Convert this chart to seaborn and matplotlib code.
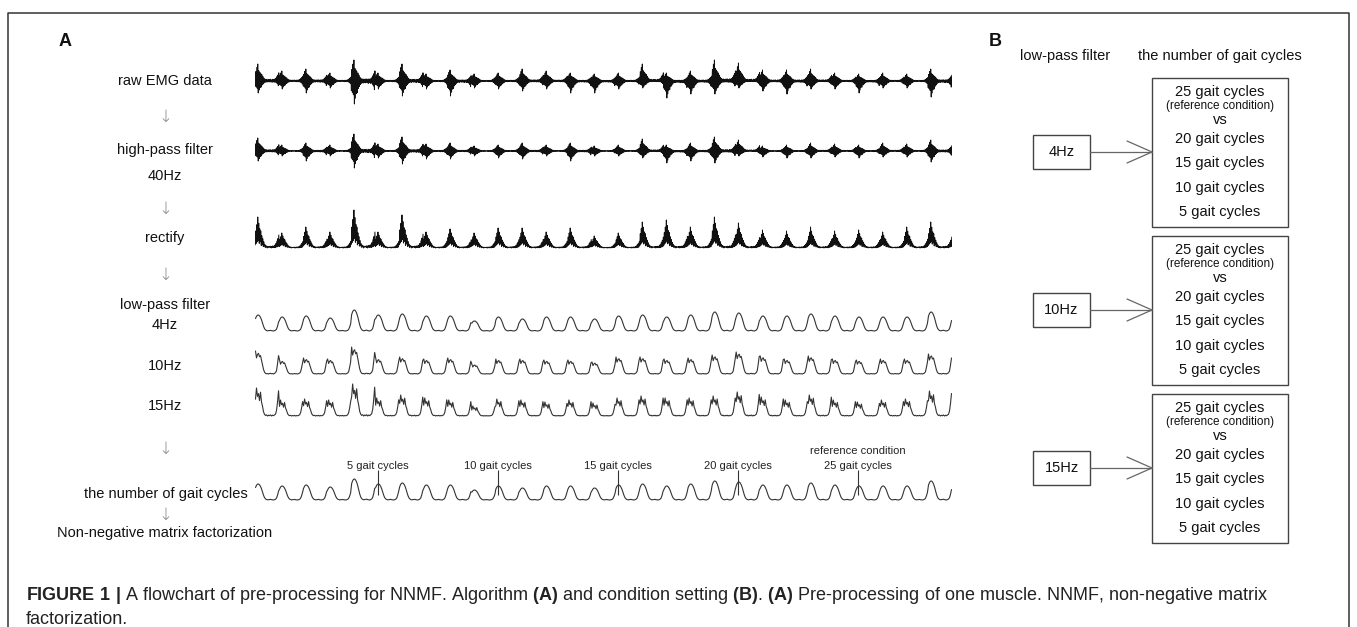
import numpy as np
import seaborn as sns
import matplotlib
matplotlib.use("Agg")
import matplotlib.pyplot as plt
from matplotlib.patches import Rectangle
from matplotlib import font_manager

# per-cycle values (29 gait cycles), in pixels
raw_up = [17, 10, 12, 8, 21, 8, 17, 7, 11, 7, 8, 12, 10, 8, 7, 8, 17, 8, 10, 21, 18, 11, 11, 12, 8, 7, 8, 7, 12]
raw_dn = [12, 8, 12, 7, 23, 8, 15, 8, 15, 7, 8, 10, 8, 12, 12, 8, 7, 17, 13, 13, 7, 10, 13, 8, 8, 12, 7, 7, 16]
hp_up = [13, 6, 8, 6, 17, 7, 14, 7, 8, 5, 6, 8, 6, 8, 5, 6, 12, 6, 8, 14, 11, 5, 6, 8, 7, 6, 8, 7, 11]
hp_dn = [10, 5, 10, 5, 17, 7, 13, 8, 8, 5, 7, 8, 5, 10, 5, 5, 7, 12, 10, 12, 5, 6, 7, 7, 6, 7, 6, 6, 11]
rect_h = [31, 15, 21, 16, 38, 16, 33, 16, 19, 15, 20, 20, 16, 20, 12, 15, 26, 28, 21, 31, 25, 18, 17, 21, 17, 18, 16, 21, 26]
lp4_h = [16, 14, 15, 13, 21, 16, 17, 15, 15, 10, 14, 12, 14, 14, 12, 15, 16, 14, 16, 19, 18, 15, 15, 17, 15, 14, 14, 14, 19]
lp10_h = [23, 14, 16, 15, 27, 16, 17, 15, 16, 10, 15, 15, 14, 14, 12, 17, 17, 15, 16, 19, 22, 18, 15, 18, 15, 14, 15, 15, 20]
lp15_h = [28, 16, 17, 16, 32, 18, 21, 18, 16, 10, 17, 16, 14, 16, 13, 18, 20, 18, 18, 20, 24, 19, 16, 21, 16, 14, 16, 17, 25]

# one-cycle waveforms (burst / hump in the middle)
raw_burst = [0.09, -0.07, 0.1, -0.08, 0.06, -0.1, 0.1, -0.07, 0.09, -0.1, 0.12, -0.09, 0.16, -0.14, 0.25, -0.22,
             0.35, -0.38, 0.48, -0.42, 0.55, -0.5, 0.8, -0.6, 1.0, -1.0, 0.6, -0.75, 0.52, -0.55, 0.45, -0.5,
             0.38, -0.32, 0.28, -0.24, 0.18, -0.15, 0.12, -0.1, 0.09, -0.08, 0.1, -0.09, 0.07, -0.06, 0.09, -0.08]
rect_burst = [0.05, 0.01, 0.06, 0.0, 0.05, 0.02, 0.07, 0.01, 0.06, 0.02, 0.09, 0.01, 0.14, 0.03, 0.22, 0.04,
              0.3, 0.06, 0.42, 0.1, 0.55, 0.15, 0.75, 0.2, 1.0, 0.25, 0.8, 0.15, 0.62, 0.2, 0.55, 0.08,
              0.4, 0.12, 0.3, 0.05, 0.2, 0.06, 0.12, 0.02, 0.08, 0.03, 0.06, 0.0, 0.05, 0.02, 0.04, 0.03]
lp4_shape = [0.04, 0.02, 0.01, 0.0, 0.02, 0.05, 0.12, 0.3, 0.55, 0.78, 0.92, 0.99,
             1.0, 0.95, 0.85, 0.7, 0.5, 0.3, 0.15, 0.07, 0.03, 0.01, 0.02, 0.03]
lp10_shape = [0.03, 0.01, 0.02, 0.0, 0.03, 0.06, 0.15, 0.45, 0.8, 1.0, 0.7, 0.85,
              0.9, 0.75, 0.8, 0.6, 0.4, 0.2, 0.08, 0.03, 0.01, 0.02, 0.0, 0.02]
lp15_shape = [0.04, 0.0, 0.03, 0.01, 0.04, 0.07, 0.2, 0.5, 0.9, 0.6, 1.0, 0.7,
              0.8, 0.55, 0.85, 0.5, 0.35, 0.15, 0.06, 0.02, 0.04, 0.0, 0.03, 0.01]

gait_marks = [5, 10, 15, 20, 25]
gait_mark_labels = ["5 gait cycles", "10 gait cycles", "15 gait cycles", "20 gait cycles", "25 gait cycles"]

steps_a = [("raw EMG data", 81), ("\u2193", 117), ("high-pass filter", 150), ("40Hz", 176),
           ("\u2193", 209), ("rectify", 238), ("\u2193", 275), ("low-pass filter", 305),
           ("4Hz", 325), ("10Hz", 366), ("15Hz", 406), ("\u2193", 449), ("\u2193", 515),
           ("Non-negative matrix factorization", 533)]

lowpass_filters = ["4Hz", "10Hz", "15Hz"]
ref_condition = "25 gait cycles"
compared_cycles = ["20 gait cycles", "15 gait cycles", "10 gait cycles", "5 gait cycles"]

caption = (r"$\mathbf{FIGURE\ 1\ |}$ A flowchart of pre-processing for NNMF. Algorithm $\mathbf{(A)}$ and "
           r"condition setting $\mathbf{(B)}$. $\mathbf{(A)}$ Pre-processing of one muscle. NNMF, non-negative matrix")
caption2 = "factorization."

sns.set_theme(style="white")
names = {f.name for f in font_manager.fontManager.ttflist}
narrow = "Liberation Sans Narrow" if "Liberation Sans Narrow" in names else "Liberation Sans"
plt.rcParams["font.family"] = ["Liberation Sans", "DejaVu Sans"]
plt.rcParams["mathtext.fontset"] = "custom"
plt.rcParams["mathtext.rm"] = narrow
plt.rcParams["mathtext.bf"] = narrow + ":bold"

W, H = 1357, 627
fig = plt.figure(figsize=(W / 100, H / 100), dpi=100)
fig.patch.set_facecolor("white")

lay = fig.add_axes([0, 0, 1, 1])
lay.set_xlim(0, W)
lay.set_ylim(H, 0)
lay.axis("off")

# frame
lay.plot([8, 8, 1349, 1349], [627, 13, 13, 627], color="#333333", lw=1.1)


def px_axes(x0, x1, ytop, ybot, ylim):
    ax = fig.add_axes([x0 / W, 1 - ybot / H, (x1 - x0) / W, (ybot - ytop) / H])
    ax.set_xlim(-0.1, 28.9)
    ax.set_ylim(*ylim)
    ax.axis("off")
    ax.patch.set_alpha(0)
    return ax


def cycles(shape, up, dn=None):
    shape = np.roll(np.asarray(shape, float), -int(0.4 * len(shape)))
    n = len(shape)
    xs, ys = [], []
    for i in range(len(up)):
        lo = dn[i] if dn is not None else up[i]
        xs.append(i - 0.1 + (np.arange(n) + 0.5) / n)
        ys.append(np.where(shape > 0, shape * up[i], shape * lo))
    return np.concatenate(xs), np.concatenate(ys)


def trace(ax, x, y, color, lw):
    sns.lineplot(x=x, y=y, ax=ax, color=color, linewidth=lw, estimator=None, sort=False)


x, y = cycles(raw_burst, raw_up, raw_dn)
trace(px_axes(255, 952, 56, 106, (-25, 25)), x, y, "#111111", 0.7)
x, y = cycles(raw_burst, hp_up, hp_dn)
trace(px_axes(255, 952, 126, 176, (-25, 25)), x, y, "#111111", 0.7)
x, y = cycles(rect_burst, rect_h)
trace(px_axes(255, 952, 208, 250, (-2, 40)), x, y, "#111111", 0.7)
x, y = cycles(lp4_shape, lp4_h)
trace(px_axes(255, 952, 305, 333, (-2, 26)), x, y, "#333333", 0.8)
x, y = cycles(lp10_shape, lp10_h)
trace(px_axes(255, 952, 344, 376, (-2, 30)), x, y, "#333333", 0.8)
x, y = cycles(lp15_shape, lp15_h)
trace(px_axes(255, 952, 380, 418, (-2, 36)), x, y, "#333333", 0.8)

gax = px_axes(255, 952, 465, 505, (-5, 35))
x, y = cycles(lp4_shape, lp4_h)
trace(gax, x, y, "#333333", 0.8)
gax.vlines(gait_marks, 5, 30, color="#333333", lw=0.8)
for m, lab in zip(gait_marks, gait_mark_labels):
    gax.text(m, 34, lab, ha="center", va="center", fontsize=8, family=[narrow, "DejaVu Sans"],
             color="#222222", clip_on=False)
gax.text(gait_marks[-1], 49, "reference condition", ha="center", va="center", fontsize=8,
         family=[narrow, "DejaVu Sans"], color="#222222", clip_on=False)

# panel A labels
lay.text(65, 42, "A", fontsize=13, fontweight="bold", ha="center", va="center", color="#111111")
for txt, yy in steps_a:
    if txt == "\u2193":
        lay.text(165, yy, txt, fontsize=12, ha="center", va="center", color="#888888",
                 family=["DejaVu Sans"], fontweight="light")
    else:
        lay.text(165, yy, txt, fontsize=10.5, ha="center", va="center", color="#111111")
lay.text(248, 494, "the number of gait cycles", fontsize=10.5, ha="right", va="center", color="#111111")

# panel B
lay.text(995, 42, "B", fontsize=13, fontweight="bold", ha="center", va="center", color="#111111")
lay.text(1065, 56, "low-pass filter", fontsize=10.5, ha="center", va="center", color="#111111")
lay.text(1220, 56, "the number of gait cycles", fontsize=10.5, ha="center", va="center", color="#111111")
for k, f in enumerate(lowpass_filters):
    top = 78 + k * 158
    cy = top + 74
    lay.add_patch(Rectangle((1152, top), 136, 149, fill=False, ec="#444444", lw=1))
    lay.add_patch(Rectangle((1033, cy - 17), 57, 34, fill=False, ec="#444444", lw=1))
    lay.text(1061.5, cy, f, fontsize=10.5, ha="center", va="center", color="#111111")
    lay.plot([1090, 1152], [cy, cy], color="#666666", lw=0.9)
    lay.plot([1127, 1152, 1127], [cy - 11, cy, cy + 11], color="#666666", lw=0.9)
    lay.text(1220, top + 14, ref_condition, fontsize=10.5, ha="center", va="center", color="#111111")
    lay.text(1220, top + 28, "(reference condition)", fontsize=8.5, ha="center", va="center", color="#111111")
    lay.text(1220, top + 42, "vs", fontsize=10.5, ha="center", va="center", color="#111111")
    for j, c in enumerate(compared_cycles):
        lay.text(1220, top + 61 + 24.3 * j, c, fontsize=10.5, ha="center", va="center", color="#111111")

# caption, sized to the reference line width
cap = lay.text(26, 596, caption, fontsize=12, ha="left", va="center", color="#222222", family=[narrow])
fig.canvas.draw()
wpx = cap.get_window_extent(fig.canvas.get_renderer()).width
size = 12 * 1242 / wpx
cap.set_fontsize(size)
lay.text(26, 619, caption2, fontsize=size, ha="left", va="center", color="#222222", family=[narrow])

fig.savefig("out.png", dpi=100, facecolor="white")
